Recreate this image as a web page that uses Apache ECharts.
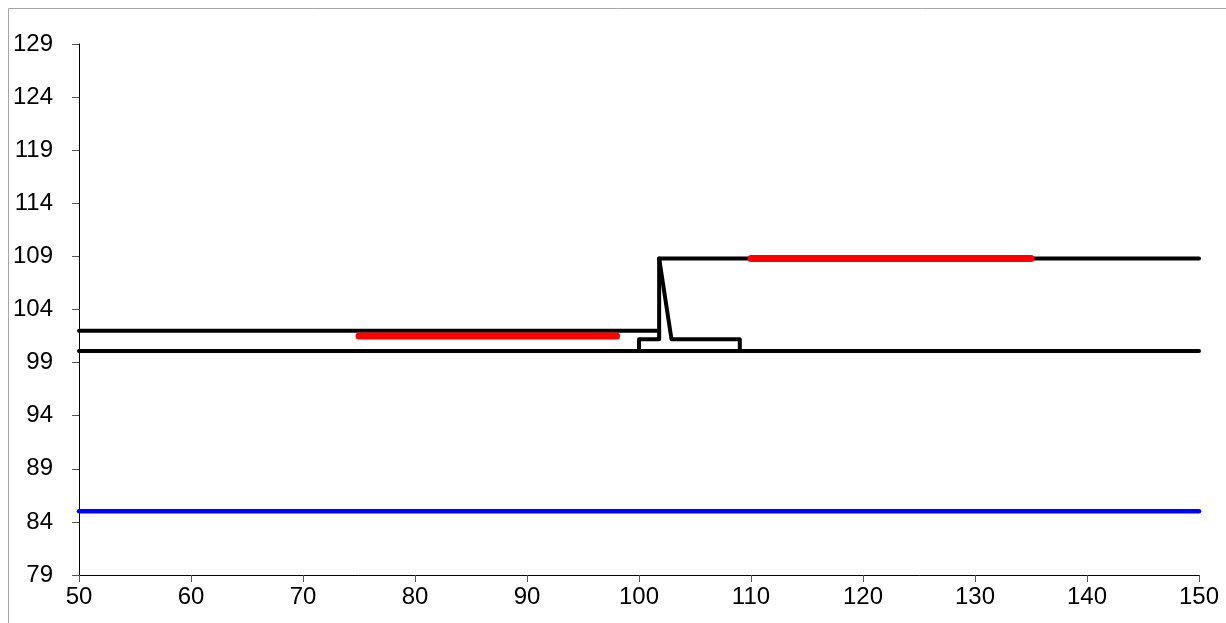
<!DOCTYPE html>
<html>
<head>
<meta charset="utf-8">
<script src="https://cdn.jsdelivr.net/npm/echarts@6/dist/echarts.min.js"></script>
<style>
  html, body { margin: 0; padding: 0; background: #fff; }
  #chart { width: 1226px; height: 623px; }
</style>
</head>
<body>
<div id="chart"></div>
<script>
// data
var xTicks = [50, 150, 10]   // min, max, interval
var yTicks = [79, 129, 5]

var lowerLevel = [[50, 100.1], [150, 100.1]]
var leftLevel = [[50, 102], [101.8, 102]]
var stepUp = [[100, 100.1], [100, 101.2], [101.8, 101.2], [101.8, 108.8], [150, 108.8]]
var stepBack = [[101.8, 108.8], [102.9, 101.2], [109, 101.2], [109, 100.1]]
var redLeft = [[75, 101.5], [98, 101.5]]
var redRight = [[110, 108.8], [135, 108.8]]
var blueLevel = [[50, 85], [150, 85]]

;(function () {
  var myChart = echarts.init(document.getElementById('chart'))

  function line(data, color, width) {
    return {
      type: 'line',
      data: data,
      showSymbol: false,
      symbol: 'none',
      animation: false,
      silent: true,
      lineStyle: { color: color, width: width, cap: 'round', join: 'round' }
    }
  }

  var option = {
    backgroundColor: '#fff',
    animation: false,
    graphic: [{
      type: 'rect',
      shape: { x: 8.5, y: 8.5, width: 1400, height: 800 },
      style: { fill: 'none', stroke: '#a6a6a6', lineWidth: 1 },
      silent: true
    }],
    grid: { left: 79, right: 27, top: 44, bottom: 48, containLabel: false },
    xAxis: {
      type: 'value',
      min: xTicks[0], max: xTicks[1], interval: xTicks[2],
      axisLine: { show: true, lineStyle: { color: '#000', width: 1 } },
      axisTick: { show: true, length: 7, lineStyle: { color: '#555' } },
      axisLabel: { color: '#000', fontSize: 24, fontFamily: 'Liberation Sans, Arial', margin: 10 },
      splitLine: { show: false }
    },
    yAxis: {
      type: 'value',
      min: yTicks[0], max: yTicks[1], interval: yTicks[2],
      axisLine: { show: true, lineStyle: { color: '#000', width: 1 } },
      axisTick: { show: true, length: 7, lineStyle: { color: '#555' } },
      axisLabel: { color: '#000', fontSize: 24, fontFamily: 'Liberation Sans, Arial', margin: 26 },
      splitLine: { show: false }
    },
    series: [
      line(lowerLevel, '#000', 4),
      line(leftLevel, '#000', 4),
      line(stepUp, '#000', 4),
      line(stepBack, '#000', 4),
      line(blueLevel, '#0000ff', 4.5),
      line(redLeft, '#ff0000', 7),
      line(redRight, '#ff0000', 7)
    ]
  }

  myChart.setOption(option)
  window.addEventListener('resize', function () {
    myChart.resize()
  })
})()
</script>
</body>
</html>
